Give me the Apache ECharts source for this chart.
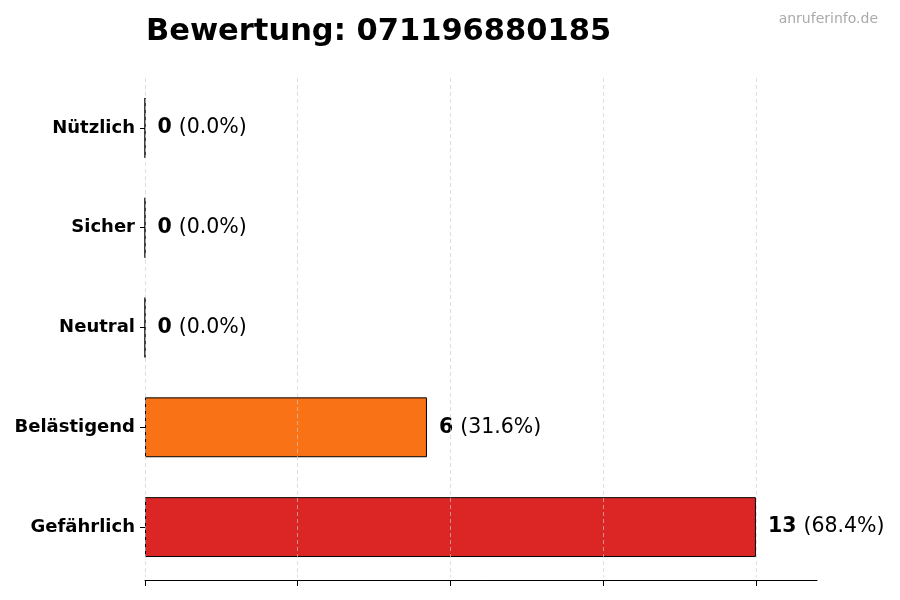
<!DOCTYPE html>
<html>
<head>
<meta charset="utf-8">
<script src="https://cdn.jsdelivr.net/npm/echarts@6/dist/echarts.min.js"></script>
<style>
  html, body { margin: 0; padding: 0; background: #fff; }
  #chart { width: 900px; height: 600px; }
</style>
</head>
<body>
<div id="chart"></div>
<script>
// Kategorien von unten nach oben
const categories = ['Gefährlich', 'Belästigend', 'Neutral', 'Sicher', 'Nützlich']
const counts = [13, 6, 0, 0, 0]
const colors = ['#dc2626', '#f97316', '#9ca3af', '#22c55e', '#16a34a']
const xTicks = [0, 3.25, 6.5, 9.75, 13]
const total = counts.reduce((a, b) => a + b, 0)

const chart = echarts.init(document.getElementById('chart'))

chart.setOption({
  animation: false,
  textStyle: { fontFamily: 'DejaVu Sans' },
  title: [
    {
      text: 'Bewertung: 071196880185',
      left: 141, top: 12,
      textStyle: { fontSize: 30.5, fontWeight: 'bold', color: '#000' }
    },
    {
      text: 'anruferinfo.de',
      right: 17, top: 7,
      textStyle: { fontSize: 14, fontWeight: 'normal', color: '#aaa' }
    }
  ],
  grid: { left: 145, right: 83, top: 78, bottom: 23 },
  xAxis: {
    type: 'value',
    min: 0, max: 14.3,
    offset: 3,
    z: 3,
    axisLine: { show: true, lineStyle: { color: '#000', width: 1 } },
    axisTick: { show: true, length: 6, customValues: xTicks, lineStyle: { color: '#000' } },
    axisLabel: { show: false, customValues: xTicks },
    splitLine: { show: true, lineStyle: { color: '#ccc', type: [4, 3], width: 0.8, opacity: 0.8 } }
  },
  yAxis: {
    type: 'category',
    data: categories,
    axisLine: { show: false },
    axisTick: { show: true, alignWithLabel: true, length: 5, lineStyle: { color: '#000' } },
    axisLabel: { fontSize: 18, fontWeight: 'bold', color: '#000', margin: 10 }
  },
  series: [{
    type: 'bar',
    barWidth: '60%',
    data: counts.map((v, i) => ({
      value: v,
      itemStyle: { color: colors[i], borderColor: '#000', borderWidth: 1 }
    })),
    label: {
      show: true,
      position: 'right',
      distance: 12,
      formatter: p => '{b|' + p.value + '}{s| }{n|(' + (p.value / total * 100).toFixed(1) + '%)}',
      rich: {
        b: { fontSize: 20.5, fontWeight: 'bold', color: '#000' },
        s: { fontSize: 20, width: 7 },
        n: { fontSize: 20.5, color: '#000' }
      }
    }
  }]
})
</script>
</body>
</html>
